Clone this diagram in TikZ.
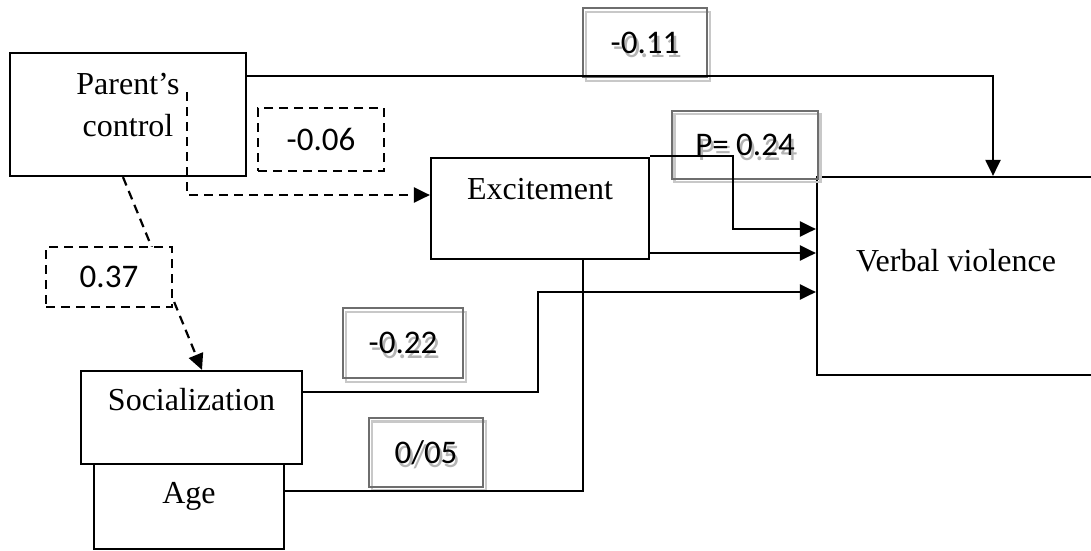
\documentclass[tikz,border=0pt]{standalone}
\usepackage{fontspec}
\setmainfont{Liberation Serif}
\newfontfamily\labfont{Carlito}
\usetikzlibrary{arrows.meta}
\definecolor{dgray}{HTML}{6E6E6E}
\definecolor{lgray}{HTML}{C8C8C8}
\definecolor{tgray}{HTML}{B4B4B4}
\newcommand\shadowtext[1]{\rlap{\hspace{2.5pt}\raisebox{-4.5pt}[0pt][0pt]{\textcolor{tgray}{#1}}}#1}
\begin{document}
\begin{tikzpicture}[x=1pt,y=-1pt,
  box/.style={draw, line width=2.2pt, fill=white, inner sep=0pt},
  txt/.style={font=\fontsize{32}{42}\selectfont, inner sep=0pt, anchor=base},
  lab/.style={draw=dgray, line width=2.6pt, inner sep=0pt, font=\labfont\fontsize{33}{40}\selectfont},
  labsh/.style={draw=lgray, line width=2.6pt, inner sep=0pt},
  dlab/.style={draw, dash pattern=on 9pt off 6pt, line width=2.2pt, fill=white, inner sep=0pt, font=\labfont\fontsize{33}{40}\selectfont},
  conn/.style={line width=2.2pt},
  tip/.style={-{Triangle[length=16pt,width=15pt]}},
  arr/.style={conn, tip},
  dconn/.style={conn, dash pattern=on 9pt off 6pt}]
\useasboundingbox (0,0) rectangle (1091,550);

% main boxes
\node[box, minimum width=236pt, minimum height=123pt] (pc) at (128,114.5) {};
\node[box, minimum width=218pt, minimum height=101pt] (ex) at (540,208.5) {};
\node[box, minimum width=221pt, minimum height=93pt] (so) at (191.5,417.5) {};
\node[box, minimum width=190pt, minimum height=85pt] (age) at (189,506.5) {};
\node[box, minimum width=278pt, minimum height=198pt] (vv) at (956,276) {};

% box texts
\node[txt] (pct1) at (128,94) {Parent’s};
\node[txt] (pct2) at (128,136.7) {control};
\node[txt] (ext) at (540,199) {Excitement};
\node[txt] (sot) at (191.5,410.7) {Socialization};
\node[txt] (aget) at (189,503) {Age};
\node[txt] (vvt) at (956,271) {Verbal violence};

% coefficient boxes with shadow
\node[labsh, minimum width=124pt, minimum height=69pt] (l011s) at (648,46.5) {};
\node[lab, minimum width=124pt, minimum height=69pt] (l011) at (645,42.5) {\shadowtext{-0.11}};
\node[labsh, minimum width=146pt, minimum height=68pt] (p024s) at (747.5,148) {};
\node[lab, minimum width=146pt, minimum height=68pt] (p024) at (745,145) {\shadowtext{P= 0.24}};
\node[labsh, minimum width=120pt, minimum height=70pt] (l022s) at (406,347) {};
\node[lab, minimum width=120pt, minimum height=70pt] (l022) at (403,343) {\shadowtext{-0.22}};
\node[labsh, minimum width=114pt, minimum height=69pt] (l005s) at (429,456) {};
\node[lab, minimum width=114pt, minimum height=69pt] (l005) at (426,452.5) {\shadowtext{0/05}};

% helper coordinates
\coordinate (t1) at (993,76);
\coordinate (d1) at (187,92);
\coordinate (d2) at (0,195);
\coordinate (a1) at (123,176);
\coordinate (a2) at (202,371);
\coordinate (b0) at (649,156);
\coordinate (b1) at (733,229);
\coordinate (b2) at (0,253);
\coordinate (b3a) at (0,392);
\coordinate (b3) at (538,292);
\coordinate (b4) at (583,491);

% connectors
\draw[arr] (pc.east |- t1) -| (vv.north -| t1);
\draw[dconn, tip] (d1) |- (ex.west |- d2);
\draw[dconn, tip] (pc.south -| a1) -- (so.north -| a2);
\draw[arr] (ex.north east |- b0) -| (b1) -- (vv.west |- b1);
\draw[arr] (ex.east |- b2) -- (vv.west |- b2);
\draw[arr] (so.east |- b3a) -| (b3) -- (vv.west |- b3);
\draw[conn] (age.east |- b4) -| (ex.south -| b4);

% dashed coefficient boxes
\node[dlab, minimum width=126pt, minimum height=63pt] (l006) at (321,139.5) {-0.06};
\node[dlab, minimum width=126pt, minimum height=60pt] (l037) at (109,277) {0.37};
\end{tikzpicture}
\end{document}
